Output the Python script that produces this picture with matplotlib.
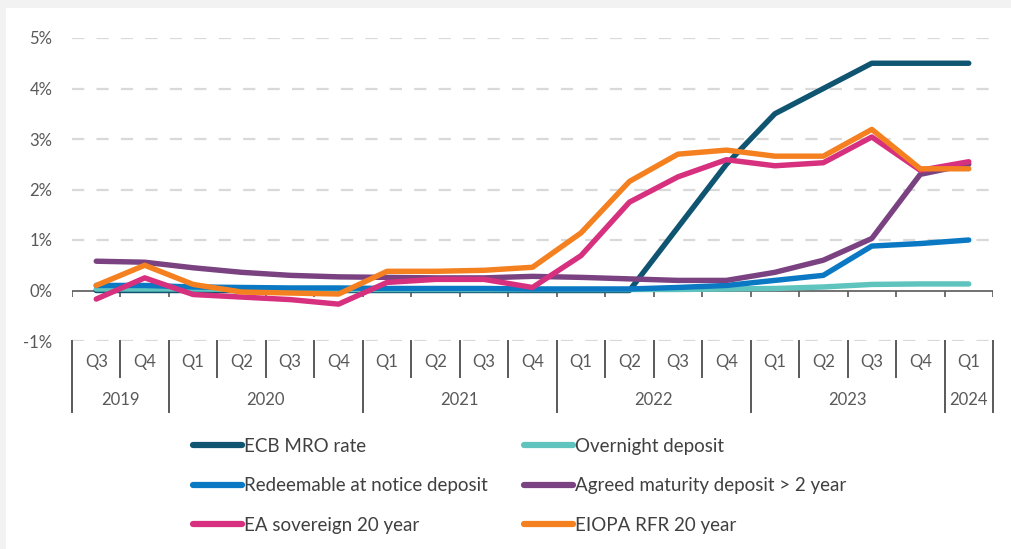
import matplotlib.pyplot as plt
from matplotlib.patches import Rectangle
from matplotlib.lines import Line2D
from matplotlib import transforms

plt.rcParams['font.family'] = ['Lato', 'DejaVu Sans']

# Quarterly interest rates, Q3 2019 - Q1 2024 (%)
quarters = ['Q3', 'Q4',
            'Q1', 'Q2', 'Q3', 'Q4',
            'Q1', 'Q2', 'Q3', 'Q4',
            'Q1', 'Q2', 'Q3', 'Q4',
            'Q1', 'Q2', 'Q3', 'Q4',
            'Q1']
years = ['2019', '2020', '2021', '2022', '2023', '2024']
year_sizes = [2, 4, 4, 4, 4, 1]

ecb_mro = [0.0, 0.0, 0.0, 0.0, 0.0, 0.0, 0.0, 0.0, 0.0, 0.0,
           0.0, 0.0, 1.25, 2.5, 3.5, 4.0, 4.5, 4.5, 4.5]
overnight = [0.03, 0.03, 0.03, 0.02, 0.02, 0.02, 0.02, 0.02, 0.02, 0.02,
             0.02, 0.02, 0.02, 0.03, 0.04, 0.07, 0.12, 0.13, 0.13]
redeemable = [0.1, 0.1, 0.07, 0.06, 0.05, 0.05, 0.04, 0.04, 0.04, 0.03,
              0.03, 0.03, 0.06, 0.1, 0.2, 0.3, 0.88, 0.93, 1.0]
agreed_2y = [0.58, 0.56, 0.45, 0.36, 0.3, 0.27, 0.26, 0.25, 0.25, 0.28,
             0.26, 0.23, 0.2, 0.2, 0.36, 0.6, 1.03, 2.3, 2.5]
ea_sov_20y = [-0.17, 0.25, -0.08, -0.13, -0.18, -0.27, 0.16, 0.22, 0.22, 0.06,
              0.69, 1.75, 2.25, 2.59, 2.47, 2.53, 3.04, 2.38, 2.55]
eiopa_20y = [0.1, 0.5, 0.12, -0.03, -0.05, -0.07, 0.38, 0.38, 0.4, 0.46,
             1.14, 2.16, 2.7, 2.78, 2.66, 2.66, 3.19, 2.41, 2.41]

series = [
    ('ECB MRO rate', ecb_mro, '#0f5572'),
    ('Overnight deposit', overnight, '#5fc4be'),
    ('Redeemable at notice deposit', redeemable, '#0a78c2'),
    ('Agreed maturity deposit > 2 year', agreed_2y, '#7b4282'),
    ('EA sovereign 20 year', ea_sov_20y, '#d6307e'),
    ('EIOPA RFR 20 year', eiopa_20y, '#f4801f'),
]

W, H = 1011, 549
fig = plt.figure(figsize=(W / 100, H / 100), dpi=100)
fig.patch.set_facecolor('#f2f2f2')
fig.add_artist(Rectangle((6 / W, 0), 1, 1 - 8 / H, transform=fig.transFigure,
                         facecolor='white', edgecolor='none', zorder=0))

left, right, top, bottom = 72, 993, 38, 341
ax = fig.add_axes([left / W, 1 - bottom / H, (right - left) / W, (bottom - top) / H])
ax.set_facecolor('none')

n = len(quarters)
x = [i + 0.5 for i in range(n)]
ax.set_xlim(0, n)
ax.set_ylim(-1, 5)

# dashed gridlines
for y in range(-1, 6):
    if y != 0:
        ax.axhline(y, color='#d9d9d9', lw=1.6, dashes=(5.5, 5.5), zorder=1)
ax.axhline(0, color='#595959', lw=1.2, zorder=2)
ax.vlines(range(n + 1), -0.12, 0, color='#595959', lw=1.2, zorder=2)

handles = []
for k, (name, vals, col) in enumerate(series):
    ln, = ax.plot(x, vals, color=col, lw=3.9, solid_capstyle='round',
                  solid_joinstyle='round', zorder=3 + k, label=name)
    handles.append(ln)

ax.set_yticks(range(-1, 6))
ax.set_yticklabels([f'{y}%' for y in range(-1, 6)])
ax.tick_params(axis='y', length=0, pad=14, labelsize=12, labelcolor='#595959')
ax.set_xticks([])
for s in ax.spines.values():
    s.set_visible(False)

# two-level category axis below the plot
ax_h = bottom - top
trans = transforms.blended_transform_factory(ax.transData, ax.transAxes)
q_sep = 36 / ax_h
y_sep = 71 / ax_h
for i, q in enumerate(quarters):
    ax.text(i + 0.5, -21 / ax_h, q, transform=trans, ha='center', va='center',
            fontsize=12, color='#595959')
year_edges = [0]
for s in year_sizes:
    year_edges.append(year_edges[-1] + s)
for i in range(n + 1):
    depth = y_sep if i in year_edges else q_sep
    ax.add_line(Line2D([i, i], [0, -depth], transform=trans, color='#595959',
                       lw=1.4, clip_on=False))
for yr, a, b in zip(years, year_edges[:-1], year_edges[1:]):
    ax.text((a + b) / 2, -59 / ax_h, yr, transform=trans, ha='center', va='center',
            fontsize=12, color='#595959')

# legend filled row by row
order = [0, 2, 4, 1, 3, 5]
leg = fig.legend(handles=[handles[i] for i in order], loc='upper left', ncol=2,
                 bbox_to_anchor=(176 / W, 1 - 421 / H), frameon=False,
                 fontsize=13.5, handlelength=2.6, handletextpad=0.15,
                 columnspacing=1.9, labelspacing=1.2, labelcolor='#404040')
for h in leg.legend_handles:
    h.set_linewidth(4.5)

fig.savefig('out.png', dpi=100)
